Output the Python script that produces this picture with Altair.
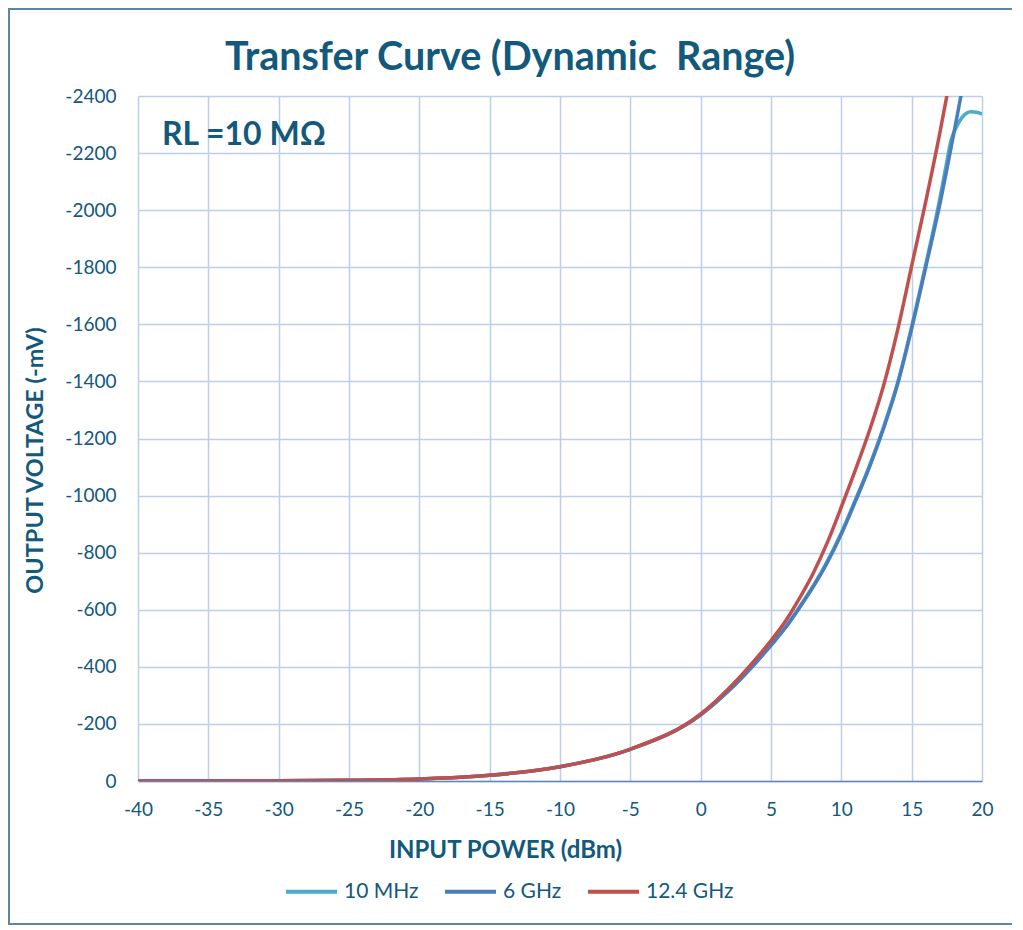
import altair as alt
import pandas as pd

series_names = ["10 MHz", "6 GHz", "12.4 GHz"]
series_colors = ["#4BACC6", "#4A7EBB", "#C0504D"]

mhz10_dbm = [-40, -35, -30, -25, -20, -15, -10, -5, 0, 1, 2, 3, 4, 5, 6, 7, 8, 9, 10, 11, 12, 13, 14, 15, 16, 17,
             17.5, 17.8, 18.2, 18.6, 19.2, 19.6, 20]
mhz10_mv = [-0.1, -0.3, -0.8, -2.4, -7, -20, -50, -111, -232, -272, -317, -366, -420, -477, -538, -608, -684, -770,
            -870, -985, -1105, -1240, -1395, -1592, -1810, -2040, -2170, -2245, -2293, -2326, -2345, -2343, -2337]

ghz6_dbm = [-40, -35, -30, -25, -20, -15, -10, -5, 0, 1, 2, 3, 4, 5, 6, 7, 8, 9, 10, 11, 12, 13, 14, 15, 16, 17, 18,
            18.5, 19]
ghz6_mv = [-0.1, -0.3, -0.8, -2.4, -7, -20, -50, -111, -232, -272, -316, -365, -418, -475, -535, -605, -680, -765,
           -865, -980, -1100, -1235, -1390, -1585, -1800, -2020, -2270, -2400, -2530]

ghz124_dbm = [-40, -35, -30, -25, -20, -15, -10, -5, 0, 1, 2, 3, 4, 5, 6, 7, 8, 9, 10, 11, 12, 13, 14, 15, 16, 17,
              17.5, 18]
ghz124_mv = [-0.1, -0.3, -0.8, -2.4, -7, -20, -50, -112, -235, -277, -324, -376, -432, -492, -558, -638, -728, -835,
             -960, -1090, -1228, -1385, -1580, -1805, -2030, -2270, -2400, -2530]

x_ticks = list(range(-40, 21, 5))
y_ticks = list(range(-2400, 1, 200))

annotation = ["RL =10 MΩ"]
annotation_x = [-38.3]
annotation_y = [-2228]

TEXT = "#12597C"
GRID = "#BCCFE8"

rows = []
for name, xs, ys in [(series_names[0], mhz10_dbm, mhz10_mv),
                     (series_names[1], ghz6_dbm, ghz6_mv),
                     (series_names[2], ghz124_dbm, ghz124_mv)]:
    for i, (xv, yv) in enumerate(zip(xs, ys)):
        rows.append({"series": name, "dbm": xv, "mv": yv, "i": i})
df = pd.DataFrame(rows)

x_enc = alt.X("dbm:Q",
              scale=alt.Scale(domain=[-40, 20], nice=False, zero=False),
              axis=alt.Axis(values=x_ticks, labelExpr="'' + datum.value", title="INPUT POWER (dBm)",
                            ticks=False, labelPadding=19, labelFontSize=19, labelColor=TEXT, labelFlush=False,
                            domain=True, domainColor="#5D88C0", domainWidth=1.5,
                            titleFontSize=24, titleFontWeight="bold", titleColor=TEXT,
                            titleX=367, titleY=69, titleBaseline="middle", titleAlign="center"))
y_enc = alt.Y("mv:Q",
              scale=alt.Scale(domain=[-2400, 0], reverse=True, nice=False, zero=False),
              axis=alt.Axis(values=y_ticks, labelExpr="'' + datum.value", title="OUTPUT VOLTAGE (-mV)",
                            ticks=False, labelPadding=22, labelFontSize=19, labelColor=TEXT, domain=False,
                            labelFlush=False,
                            titleFontSize=23.5, titleFontWeight="bold", titleColor=TEXT,
                            titleAngle=-90, titleX=-103, titleY=364, titleBaseline="middle", titleAlign="center"))
color_enc = alt.Color("series:N",
                      scale=alt.Scale(domain=series_names, range=series_colors),
                      legend=alt.Legend(title=None, orient="none", legendX=146, legendY=768,
                                        direction="horizontal", symbolType="stroke", symbolSize=2600,
                                        symbolStrokeWidth=4, labelFontSize=21, labelColor=TEXT,
                                        labelOffset=5, columnPadding=18, labelFont="Lato"))

base = alt.Chart(df)
layers = []
for name in series_names:
    layers.append(
        base.transform_filter(alt.datum.series == name)
        .mark_line(strokeWidth=3.5, interpolate="monotone", clip=True)
        .encode(x=x_enc, y=y_enc, color=color_enc, order="i:Q")
    )

ann_df = pd.DataFrame({"label": annotation, "dbm": annotation_x, "mv": annotation_y})
ann = alt.Chart(ann_df).mark_text(align="left", baseline="alphabetic", fontSize=32, fontWeight="bold",
                                  font="Lato", color=TEXT).encode(
    x=alt.X("dbm:Q"), y=alt.Y("mv:Q"), text="label:N")

frame = alt.Chart(pd.DataFrame({"k": [0]})).mark_rect(filled=False, stroke="#5F86A0", strokeWidth=2).encode(
    x=alt.value(-129), x2=alt.value(920), y=alt.value(-87), y2=alt.value(828))

chart = alt.layer(frame, *layers, ann).properties(
    width=844, height=685,
    padding={"left": 130, "top": 88, "right": 30, "bottom": 145},
    autosize=alt.AutoSizeParams(type="none"),
    title=alt.TitleParams("Transfer Curve (Dynamic\u00a0\u00a0Range)", fontSize=39.5, font="Lato",
                          fontWeight="bold", color=TEXT, anchor="middle", frame="group",
                          baseline="alphabetic", dx=-50, dy=115, offset=14),
).configure(font="Lato").configure_axis(
    gridColor=GRID, gridWidth=1.5, gridOpacity=1, labelFont="Lato", titleFont="Lato"
).configure_view(stroke=None)

chart.save("out.html", embed_options={"renderer": "svg", "actions": False})
